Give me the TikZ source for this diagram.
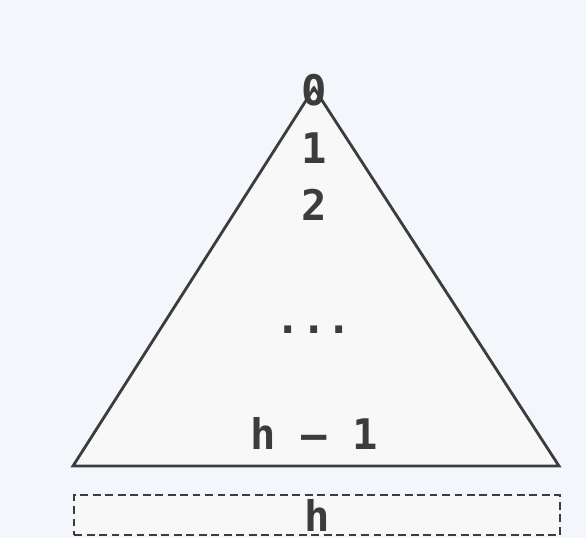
\documentclass[tikz,border=0pt]{standalone}
\usepackage{fontspec}
\setmonofont{DejaVu Sans Mono}
\definecolor{bgblue}{HTML}{F3F6FB}
\definecolor{trifill}{HTML}{F8F8F8}
\definecolor{ink}{HTML}{3C3C3C}
\tikzset{
  level/.style={text=ink, inner sep=0, outer sep=0, font=\ttfamily\bfseries\fontsize{24}{26}\selectfont},
}
\begin{document}
\begin{tikzpicture}[x=0.02cm, y=-0.02cm, draw=ink]
  \fill[bgblue] (0, 0) rectangle (586, 538);
  \useasboundingbox (0, 0) rectangle (586, 538);

  \coordinate (apex) at (314, 88);
  \coordinate (baseL) at (73, 466);
  \coordinate (baseR) at (559, 466);
  \draw[line width=1.6pt, fill=trifill, line join=miter] (apex) -- (baseL) -- (baseR) -- cycle;

  % bottom level, outside the triangle
  \node[rectangle, draw=ink, dash pattern=on 4.5pt off 2.6pt, line width=1.3pt,
    fill=trifill, anchor=north west,
    minimum width=486*0.02cm, minimum height=40*0.02cm] (lastrow) at (73, 494) {};

  \node[level] (lvl0) at (314, 90) {0};
  \node[level] (lvl1) at (314, 148) {1};
  \node[level] (lvl2) at (314, 205) {2};
  \node[level] (dots) at (314, 330) {...};
  \node[level] (lvlhm) at (314, 433) {h – 1};
  \node[level] (lvlh) at (lastrow.center) {h};
\end{tikzpicture}
\end{document}
